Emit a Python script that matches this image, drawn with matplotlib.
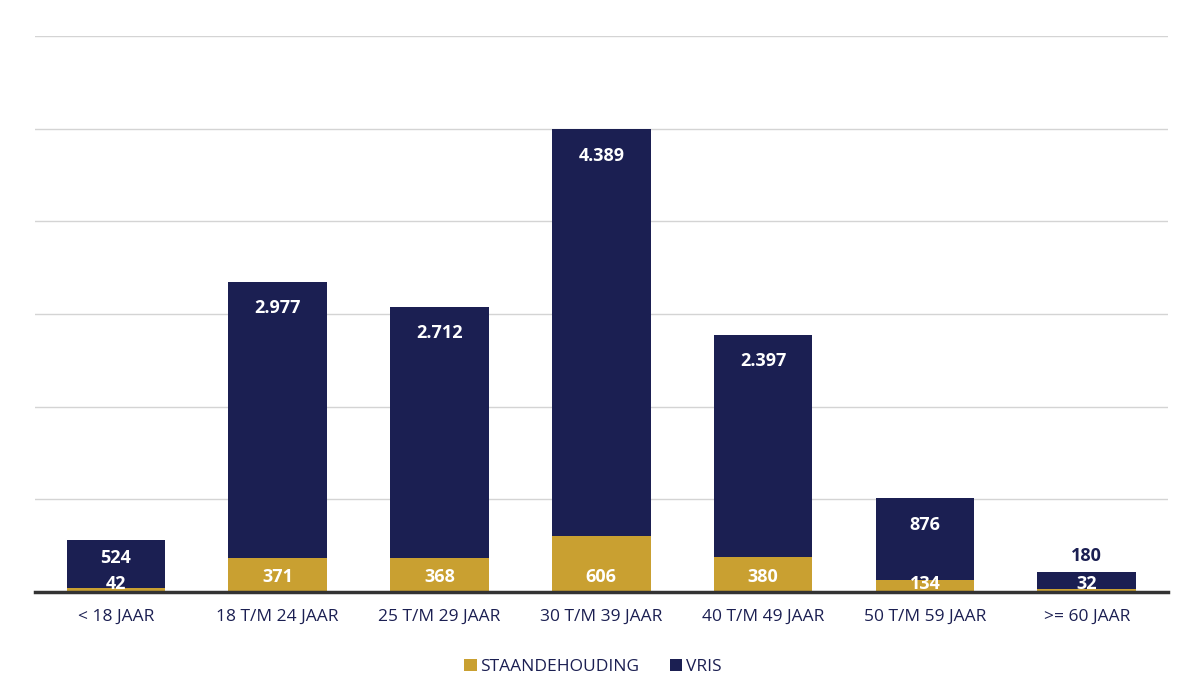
import matplotlib.pyplot as plt
import numpy as np

categories = ['< 18 JAAR', '18 T/M 24 JAAR', '25 T/M 29 JAAR', '30 T/M 39 JAAR',
              '40 T/M 49 JAAR', '50 T/M 59 JAAR', '>= 60 JAAR']
staandehouding = [42, 371, 368, 606, 380, 134, 32]
vris = [524, 2977, 2712, 4389, 2397, 876, 180]

gold = '#c9a031'
navy = '#1b1f52'


def nl(v):
    # dutch thousands separator
    return f'{v:,}'.replace(',', '.')


plt.rcParams['font.family'] = ['Open Sans', 'DejaVu Sans']

fig = plt.figure(figsize=(11.86, 6.94), dpi=100)
ax = fig.add_axes([0.0295, 0.147, 0.955, 0.801])

x = np.arange(len(categories))
ax.bar(x, staandehouding, width=0.61, color=gold, label='STAANDEHOUDING', zorder=3)
ax.bar(x, vris, width=0.61, bottom=staandehouding, color=navy, label='VRIS', zorder=3)

ax.set_xlim(-0.5, len(categories) - 0.5)
ax.set_ylim(0, 6000)
ax.set_yticks(range(0, 6001, 1000))
ax.yaxis.grid(True, color='#d4d4d4', linewidth=1)
ax.tick_params(axis='y', left=False, labelleft=False)
ax.tick_params(axis='x', length=0, pad=12, labelsize=12.5, labelcolor=navy)
ax.set_xticks(x)
ax.set_xticklabels(categories)
for s in ['top', 'right', 'left']:
    ax.spines[s].set_visible(False)
ax.spines['bottom'].set_color('#333333')
ax.spines['bottom'].set_linewidth(2.5)
ax.spines['bottom'].set_zorder(4)

lbl = dict(ha='center', va='center', fontsize=13, fontweight='bold', zorder=5,
           textcoords='offset points')
for i in range(len(categories)):
    g = staandehouding[i]
    v = vris[i]
    top = g + v
    # gold labels near the base
    ax.annotate(nl(g), (i, 0), xytext=(0, 11 if g > 300 else 6), color='white', **lbl)
    # vris labels
    if v < 300:
        ax.annotate(nl(v), (i, top), xytext=(0, 12), color=navy, **lbl)
    else:
        off = -13 if v < 700 else -19
        ax.annotate(nl(v), (i, top), xytext=(0, off), color='white', **lbl)

leg = fig.legend(loc='lower center', bbox_to_anchor=(0.5, 0.005), ncol=2, frameon=False,
                 fontsize=12.5, handlelength=0.7, handleheight=0.7, handletextpad=0.2,
                 columnspacing=1.8)
for t in leg.get_texts():
    t.set_color(navy)

fig.savefig('out.png', dpi=100)
